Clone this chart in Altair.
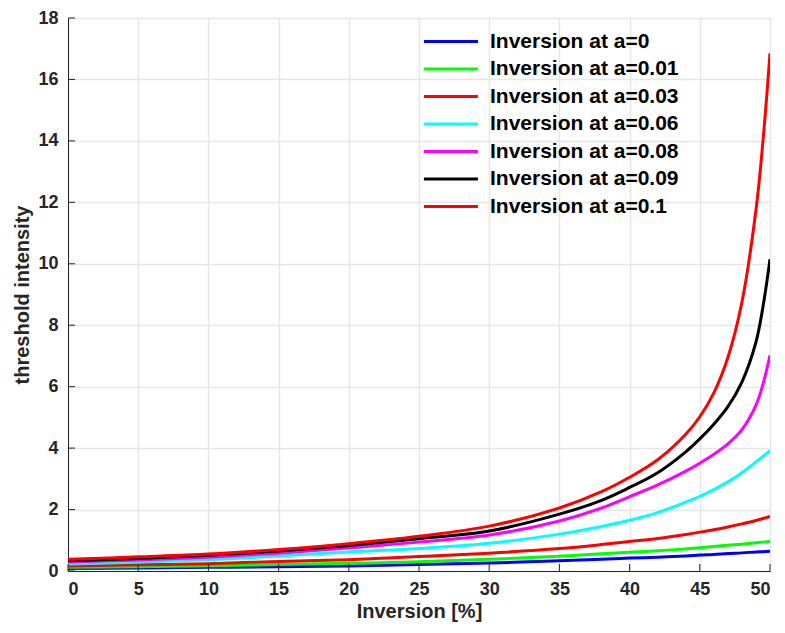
import altair as alt
import pandas as pd

# Inversion [%] sample positions
inversion = [0, 5, 10, 15, 20, 25, 30, 35, 38, 40, 42, 44, 45, 46, 47, 48, 49, 49.5, 50]

series_labels = [
    "Inversion at a=0",
    "Inversion at a=0.01",
    "Inversion at a=0.03",
    "Inversion at a=0.06",
    "Inversion at a=0.08",
    "Inversion at a=0.09",
    "Inversion at a=0.1",
]
series_colors = ["#0000ff", "#00ff00", "#ff0000", "#00ffff", "#ff00ff", "#000000", "#ff0000"]

a_000 = [0.08, 0.10, 0.12, 0.14, 0.16, 0.21, 0.26, 0.33, 0.38, 0.42, 0.45, 0.49, 0.52, 0.54, 0.57, 0.59, 0.62, 0.63, 0.64]
a_001 = [0.12, 0.14, 0.17, 0.21, 0.25, 0.30, 0.38, 0.48, 0.56, 0.61, 0.66, 0.72, 0.76, 0.80, 0.84, 0.87, 0.92, 0.94, 0.96]
a_003 = [0.16, 0.20, 0.24, 0.31, 0.37, 0.47, 0.58, 0.73, 0.86, 0.96, 1.06, 1.19, 1.265, 1.345, 1.435, 1.535, 1.645, 1.71, 1.78]
a_006 = [0.23, 0.29, 0.37, 0.49, 0.62, 0.73, 0.90, 1.20, 1.45, 1.65, 1.90, 2.24, 2.43, 2.65, 2.90, 3.20, 3.55, 3.73, 3.92]
a_008 = [0.29, 0.36, 0.45, 0.58, 0.75, 0.94, 1.17, 1.63, 2.05, 2.42, 2.80, 3.25, 3.51, 3.80, 4.14, 4.60, 5.40, 6.08, 7.02]
a_009 = [0.33, 0.41, 0.51, 0.65, 0.83, 1.05, 1.30, 1.85, 2.30, 2.72, 3.20, 3.88, 4.30, 4.78, 5.35, 6.15, 7.45, 8.60, 10.15]
a_010 = [0.38, 0.46, 0.55, 0.70, 0.89, 1.13, 1.46, 2.05, 2.58, 3.05, 3.62, 4.45, 5.02, 5.80, 6.95, 8.75, 11.75, 14.00, 16.85]

series_values = [a_000, a_001, a_003, a_006, a_008, a_009, a_010]

x_ticks = list(range(0, 51, 5))
y_ticks = list(range(0, 19, 2))

rows = []
for k, (lab, ys) in enumerate(zip(series_labels, series_values)):
    for xi, yi in zip(inversion, ys):
        rows.append({"inv": xi, "thr": yi, "series": lab, "k": k})
df = pd.DataFrame(rows)

FONT = "Liberation Sans"
W, H = 702, 553

x_scale = alt.Scale(domain=[0, 50], nice=False, zero=False)
y_scale = alt.Scale(domain=[0, 18], nice=False, zero=False)

lines = alt.Chart(df).mark_line(strokeWidth=3, interpolate="catmull-rom", clip=True).encode(
    x=alt.X("inv:Q", scale=x_scale,
            axis=alt.Axis(title="Inversion [%]", values=x_ticks, tickSize=0, labelPadding=9,
                          grid=True, gridColor="#e6e6e6", gridWidth=1.5,
                          domainColor="#262626", domainWidth=1,
                          labelFont=FONT, labelFontSize=18, labelFontWeight="bold", labelColor="#262626",
                          titleFont=FONT, titleFontSize=20, titleFontWeight="bold", titleColor="#262626",
                          titlePadding=3)),
    y=alt.Y("thr:Q", scale=y_scale,
            axis=alt.Axis(title="threshold intensity", values=y_ticks, tickSize=0, labelPadding=10,
                          grid=True, gridColor="#e6e6e6", gridWidth=1.5,
                          domainColor="#262626", domainWidth=1,
                          labelFont=FONT, labelFontSize=18, labelFontWeight="bold", labelColor="#262626",
                          titleFont=FONT, titleFontSize=20, titleFontWeight="bold", titleColor="#262626",
                          titlePadding=5)),
    color=alt.Color("series:N",
                    scale=alt.Scale(domain=series_labels, range=series_colors),
                    sort=series_labels,
                    legend=alt.Legend(title=None, orient="none", legendX=354, legendY=11,
                                      symbolType="M-1,0H4.1", symbolSize=449, symbolStrokeWidth=3,
                                      labelFont=FONT, labelFontSize=21, labelFontWeight="bold",
                                      labelColor="#000000", labelOffset=43, rowPadding=4.5,
                                      padding=0, labelLimit=400)),
    order=alt.Order("k:Q"),
)

xt_df = pd.DataFrame({"t": x_ticks})
yt_df = pd.DataFrame({"t": y_ticks})

x_tick_marks = alt.Chart(xt_df).mark_rule(color="#262626", strokeWidth=1).encode(
    x=alt.X("t:Q", scale=x_scale),
    y=alt.value(H),
    y2=alt.value(H - 7),
)
y_tick_marks = alt.Chart(yt_df).mark_rule(color="#262626", strokeWidth=1).encode(
    y=alt.Y("t:Q", scale=y_scale),
    x=alt.value(0),
    x2=alt.value(7),
)

chart = alt.layer(lines, x_tick_marks, y_tick_marks).properties(
    width=W, height=H,
    autosize=alt.AutoSizeParams(type="none"),
    padding={"left": 60, "top": 10, "right": 7, "bottom": 54},
).configure_view(stroke=None).configure(background="white")

chart.save("out.html", embed_options={"renderer": "svg", "actions": False})
